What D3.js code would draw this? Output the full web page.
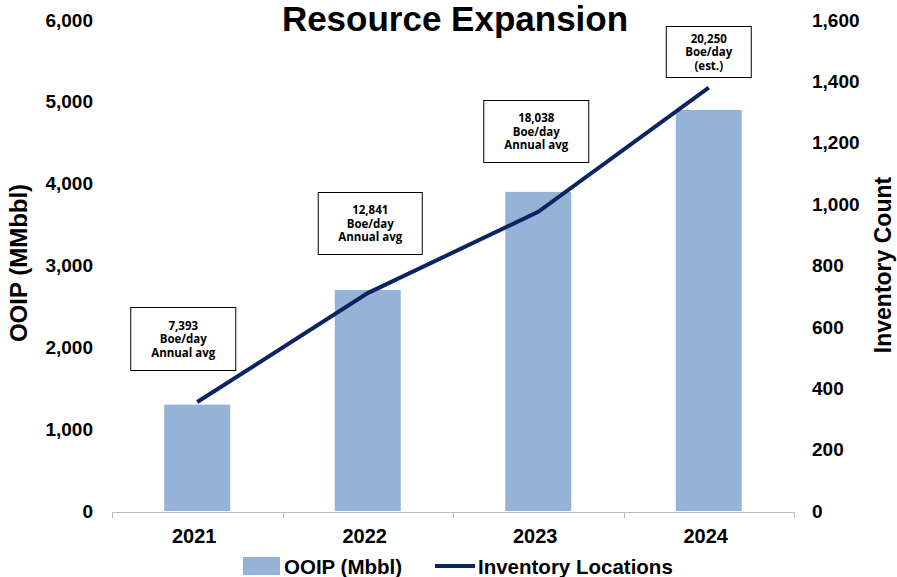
<!DOCTYPE html>
<html>
<head>
<meta charset="utf-8">
<script src="https://cdn.jsdelivr.net/npm/d3@7"></script>
<style>
  body { margin: 0; background: #fff; }
  text { font-family: "Liberation Sans", Arial, sans-serif; }
</style>
</head>
<body>
<svg id="chart" width="897" height="577"></svg>
<script>
// chart data
var years = ["2021", "2022", "2023", "2024"];
var ooip = [1300, 2700, 3900, 4900];          // bars, left axis
var inventory = [355, 710, 975, 1380];        // line, right axis
var notes = [
  ["7,393", "Boe/day", "Annual avg"],
  ["12,841", "Boe/day", "Annual avg"],
  ["18,038", "Boe/day", "Annual avg"],
  ["20,250", "Boe/day", "(est.)"]
];
var leftTicks = [0, 1000, 2000, 3000, 4000, 5000, 6000];
var rightTicks = [0, 200, 400, 600, 800, 1000, 1200, 1400, 1600];

var svg = d3.select("#chart");
var barColor = "#95b3d7", lineColor = "#0c2461";

var x = d3.scaleBand().domain(years).range([112, 794]).paddingInner(0).paddingOuter(0);
var yL = d3.scaleLinear().domain([0, 6000]).range([511, 20]);
var yR = d3.scaleLinear().domain([0, 1600]).range([511, 20]);
var fmt = d3.format(",");

// title
svg.append("text")
  .attr("x", 455).attr("y", 31)
  .attr("text-anchor", "middle")
  .style("font-size", "35px").style("font-weight", "bold")
  .text("Resource Expansion");

// bars
var bw = 66;
svg.append("g").selectAll("rect")
  .data(years)
  .enter().append("rect")
  .attr("x", function(d) { return x(d) + x.bandwidth() / 2 - bw / 2; })
  .attr("y", function(d, i) { return yL(ooip[i]); })
  .attr("width", bw)
  .attr("height", function(d, i) { return yL(0) - yL(ooip[i]); })
  .attr("fill", barColor);

// x axis line with category ticks
var xg = svg.append("g");
xg.append("line")
  .attr("x1", x.range()[0]).attr("x2", x.range()[1])
  .attr("y1", 512.5).attr("y2", 512.5)
  .attr("stroke", "#bfbfbf").attr("stroke-width", 1);
xg.selectAll("line.tk")
  .data(years.concat(["end"]))
  .enter().append("line")
  .attr("class", "tk")
  .attr("x1", function(d, i) { return Math.round(x.range()[0] + i * x.bandwidth()) + 0.5; })
  .attr("x2", function(d, i) { return Math.round(x.range()[0] + i * x.bandwidth()) + 0.5; })
  .attr("y1", 512).attr("y2", 518)
  .attr("stroke", "#bfbfbf");
xg.selectAll("text")
  .data(years)
  .enter().append("text")
  .attr("x", function(d) { return x(d) + x.bandwidth() / 2 - 3; })
  .attr("y", 543)
  .attr("text-anchor", "middle")
  .style("font-size", "20px").style("font-weight", "bold")
  .text(function(d) { return d; });

// left axis labels
svg.append("g").selectAll("text")
  .data(leftTicks)
  .enter().append("text")
  .attr("x", 93)
  .attr("y", function(d) { return yL(d); })
  .attr("dy", "0.35em")
  .attr("text-anchor", "end")
  .style("font-size", "19px").style("font-weight", "bold")
  .text(fmt);

svg.append("text")
  .attr("transform", "translate(27,263) rotate(-90)")
  .attr("text-anchor", "middle")
  .style("font-size", "24px").style("font-weight", "bold")
  .text("OOIP (MMbbl)");

// right axis labels
svg.append("g").selectAll("text")
  .data(rightTicks)
  .enter().append("text")
  .attr("x", 812)
  .attr("y", function(d) { return yR(d); })
  .attr("dy", "0.35em")
  .attr("text-anchor", "start")
  .style("font-size", "19px").style("font-weight", "bold")
  .text(fmt);

svg.append("text")
  .attr("transform", "translate(891,265) rotate(-90)")
  .attr("text-anchor", "middle")
  .style("font-size", "23px").style("font-weight", "bold")
  .text("Inventory Count");

// line
var line = d3.line()
  .x(function(d, i) { return x(years[i]) + x.bandwidth() / 2; })
  .y(function(d) { return yR(d); });
svg.append("path")
  .datum(inventory)
  .attr("d", line)
  .attr("fill", "none")
  .attr("stroke", lineColor)
  .attr("stroke-width", 4);

// annotation boxes
var boxes = [
  { w: 105, h: 63, dx: -67, top: 307 },
  { w: 104, h: 62, dx: -50, top: 192 },
  { w: 105, h: 62, dx: -55, top: 100 },
  { w: 85, h: 51, dx: -43, top: 26 }
];
var ann = svg.append("g").selectAll("g")
  .data(notes)
  .enter().append("g")
  .attr("transform", function(d, i) {
    var cx = x(years[i]) + x.bandwidth() / 2;
    return "translate(" + (cx + boxes[i].dx) + "," + boxes[i].top + ")";
  });
ann.append("rect")
  .attr("x", 0.5).attr("y", 0.5)
  .attr("width", function(d, i) { return boxes[i].w; })
  .attr("height", function(d, i) { return boxes[i].h; })
  .attr("fill", "#fff")
  .attr("stroke", "#000").attr("stroke-width", 1);
ann.each(function(d, i) {
  var g = d3.select(this);
  var b = boxes[i];
  var lh = 13.5;
  var start = b.h / 2 - lh + 4.5;
  d.forEach(function(t, j) {
    g.append("text")
      .attr("x", b.w / 2 + 0.5)
      .attr("y", start + j * lh)
      .attr("text-anchor", "middle")
      .style("font-family", "'Open Sans', sans-serif")
      .style("font-size", "11.5px").style("font-weight", "bold")
      .text(t);
  });
});

// legend
var lg = svg.append("g");
lg.append("rect")
  .attr("x", 243).attr("y", 557).attr("width", 37).attr("height", 18)
  .attr("fill", barColor);
lg.append("text")
  .attr("x", 284).attr("y", 574)
  .style("font-size", "20.5px").style("font-weight", "bold")
  .text("OOIP (Mbbl)");
lg.append("line")
  .attr("x1", 435).attr("x2", 475).attr("y1", 566).attr("y2", 566)
  .attr("stroke", lineColor).attr("stroke-width", 4);
lg.append("text")
  .attr("x", 478).attr("y", 574)
  .style("font-size", "20.5px").style("font-weight", "bold")
  .text("Inventory Locations");
</script>
</body>
</html>
